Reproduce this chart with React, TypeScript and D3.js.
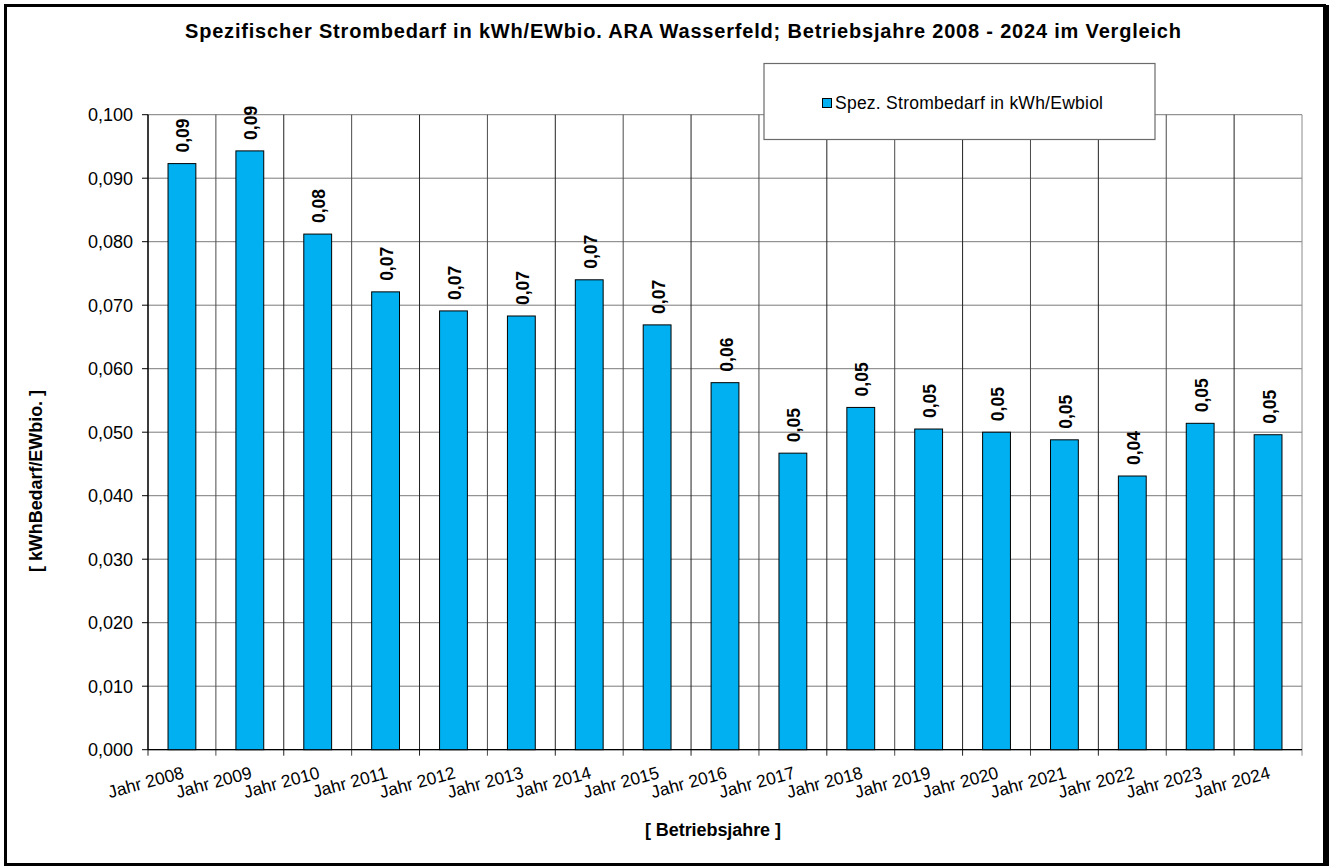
import React from "react";
import * as d3 from "d3";

const categories = [
  "Jahr 2008", "Jahr 2009", "Jahr 2010", "Jahr 2011", "Jahr 2012", "Jahr 2013",
  "Jahr 2014", "Jahr 2015", "Jahr 2016", "Jahr 2017", "Jahr 2018", "Jahr 2019",
  "Jahr 2020", "Jahr 2021", "Jahr 2022", "Jahr 2023", "Jahr 2024",
];
const values = [
  0.0923, 0.0943, 0.0812, 0.0721, 0.0691, 0.0683, 0.074, 0.0669, 0.0578,
  0.0467, 0.0539, 0.0505, 0.05, 0.0488, 0.0431, 0.0514, 0.0496,
];
const yTicks = [0, 0.01, 0.02, 0.03, 0.04, 0.05, 0.06, 0.07, 0.08, 0.09, 0.1];
const seriesName = "Spez. Strombedarf in kWh/Ewbiol";
const title = "Spezifischer Strombedarf in kWh/EWbio. ARA Wasserfeld; Betriebsjahre 2008 - 2024 im Vergleich";
const yTitle = "[ kWhBedarf/EWbio. ]";
const xTitle = "[ Betriebsjahre ]";

const W = 1330, H = 866;
const left = 148, right = 1302, top = 114.7, bottom = 749.7;
const font = "Arial, 'Liberation Sans', sans-serif";

export default function App() {
  const x = d3.scaleBand<string>().domain(categories).range([left, right]).paddingInner(0).paddingOuter(0);
  const y = d3.scaleLinear().domain([0, 0.1]).range([bottom, top]);
  const bw = x.bandwidth() * 0.41;
  const fmt3 = (v: number) => v.toFixed(3).replace(".", ",");
  const fmt2 = (v: number) => v.toFixed(2).replace(".", ",");
  const bounds = categories.map((c) => x(c)!).concat([right]);

  return (
    <svg width={W} height={H} style={{ position: "absolute", left: 0, top: 0 }} fontFamily={font}>
      <rect x={0} y={0} width={W} height={H} fill="#fff" />
      {yTicks.map((t) => (
        <line key={"h" + t} x1={left} x2={right} y1={y(t)} y2={y(t)} stroke="#7a7a7a" strokeWidth={1} />
      ))}
      {bounds.map((b, i) => (
        <line key={"v" + i} x1={b} x2={b} y1={top} y2={bottom + 6}
          stroke={i === bounds.length - 1 ? "#8a8a8a" : i % 2 === 0 ? "#222" : "#4a4a4a"} strokeWidth={1} />
      ))}
      {yTicks.map((t) => (
        <g key={"yt" + t}>
          <line x1={left - 6} x2={left} y1={y(t)} y2={y(t)} stroke="#000" />
          <text x={133} y={y(t) + 6.5} textAnchor="end" fontSize={18} fill="#000">{fmt3(t)}</text>
        </g>
      ))}
      <line x1={left} x2={left} y1={top} y2={bottom} stroke="#000" strokeWidth={1.2} />
      <line x1={left} x2={right} y1={bottom} y2={bottom} stroke="#000" strokeWidth={1.2} />
      {categories.map((c, i) => {
        const cx = x(c)! + x.bandwidth() / 2;
        return (
          <g key={c}>
            <rect x={cx - bw / 2} y={y(values[i])} width={bw} height={bottom - y(values[i])}
              fill="#00B0F0" stroke="#000" strokeWidth={1} />
            <text transform={`translate(${cx + 7.5},${y(values[i]) - 11}) rotate(-90)`}
              fontSize={17.5} fontWeight="bold" fill="#000">{fmt2(values[i])}</text>
          </g>
        );
      })}
      {categories.map((c) => {
        const cx = x(c)! + x.bandwidth() / 2;
        return (
          <text key={"xl" + c} transform={`translate(${cx + 3},${778}) rotate(-15)`}
            textAnchor="end" fontSize={17.5} fill="#000">{c}</text>
        );
      })}
      <text x={185} y={38} fontSize={20} fontWeight="bold" fill="#000"
        textLength={996} lengthAdjust="spacing">{title}</text>
      <text transform={`translate(42,572) rotate(-90)`} fontSize={18} fontWeight="bold"
        textLength={182} lengthAdjust="spacing">{yTitle}</text>
      <text x={645} y={836} fontSize={18} fontWeight="bold" textLength={136} lengthAdjust="spacing">{xTitle}</text>
      <rect x={764} y={63.5} width={391} height={76} fill="#fff" stroke="#6b6b6b" strokeWidth={1.2} />
      <rect x={822.5} y={98.5} width={9} height={9} fill="#00B0F0" stroke="#000" strokeWidth={1} />
      <text x={835} y={109} fontSize={17.5} fill="#000" textLength={268} lengthAdjust="spacing">{seriesName}</text>
      <rect x={5.5} y={5.5} width={1319} height={859} fill="none" stroke="#000" strokeWidth={3} />
      <rect x={1323} y={5} width={6} height={861} fill="#000" />
      <rect x={5} y={863} width={1324} height={3} fill="#000" />
    </svg>
  );
}
